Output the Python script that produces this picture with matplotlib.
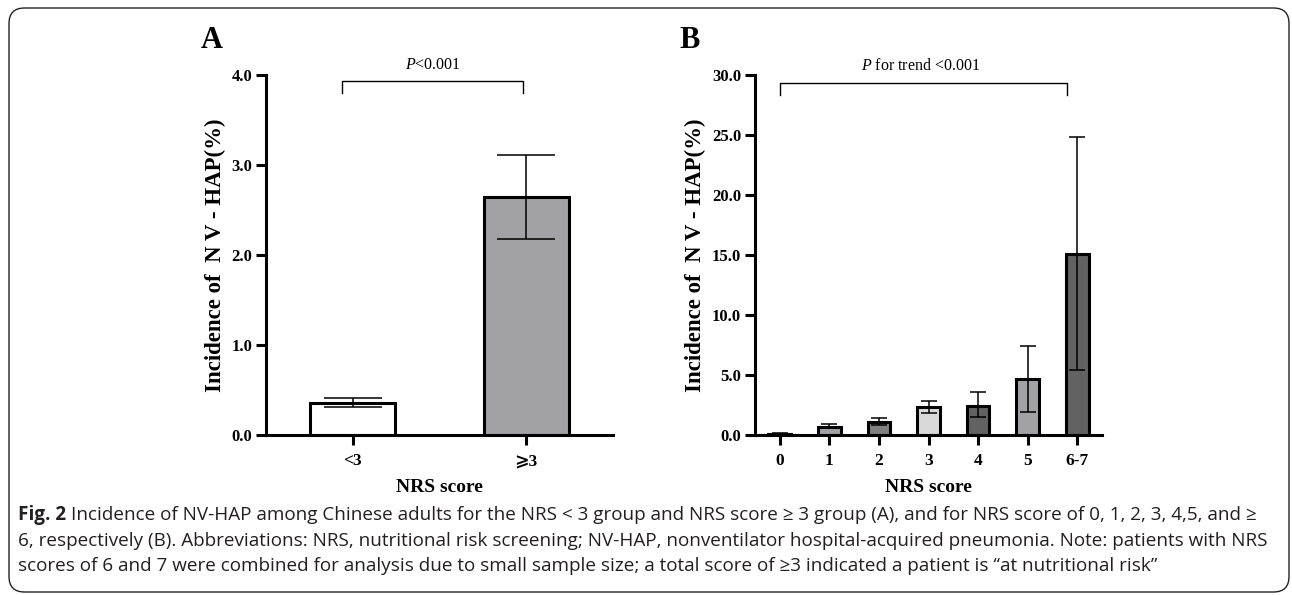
import numpy as np
import matplotlib
matplotlib.use("Agg")
import matplotlib.pyplot as plt
from matplotlib.patches import FancyBboxPatch

plt.rcParams['font.family'] = ['Liberation Serif', 'DejaVu Serif', 'DejaVu Sans']
plt.rcParams['mathtext.fontset'] = 'custom'
plt.rcParams['mathtext.rm'] = 'Liberation Serif'
plt.rcParams['mathtext.it'] = 'Liberation Serif:italic'
plt.rcParams['mathtext.bf'] = 'Liberation Serif:bold'

# Panel A data
a_labels = ["<3", "\u2a7e3"]
a_values = [0.36, 2.64]
a_low = [0.31, 2.18]
a_high = [0.41, 3.11]
a_colors = ["#ffffff", "#a2a1a6"]

# Panel B data
b_labels = ["0", "1", "2", "3", "4", "5", "6-7"]
b_values = [0.08, 0.70, 1.05, 2.30, 2.45, 4.65, 15.05]
b_low = [0.03, 0.58, 0.80, 1.80, 1.47, 1.94, 5.45]
b_high = [0.15, 0.90, 1.39, 2.86, 3.62, 7.44, 24.80]
b_colors = ["#ffffff", "#a2a1a6", "#808080", "#d9d9d9", "#626262", "#a2a1a6", "#626262"]

W, H = 1292, 595
fig = plt.figure(figsize=(W / 100, H / 100), dpi=100)

def px(x, y):
    return x / W, 1 - y / H

lw_axis = 2.2


def style_axes(ax, yticks, ymax):
    for s in ['top', 'right']:
        ax.spines[s].set_visible(False)
    for s in ['left', 'bottom']:
        ax.spines[s].set_linewidth(lw_axis)
    ax.set_ylim(0, ymax)
    ax.set_yticks(yticks)
    ax.set_yticklabels([f"{v:.1f}" for v in yticks], fontsize=12, fontweight='bold')
    ax.tick_params(axis='y', length=7, width=lw_axis, pad=3)
    ax.tick_params(axis='x', length=7, width=lw_axis, pad=6)
    ax.set_ylabel("Incidence of  N V - HAP(%)", fontsize=16.5, fontweight='bold', labelpad=4)
    ax.set_xlabel("NRS score", fontsize=14, fontweight='bold', labelpad=7)


# ---- Panel A ----
axA = fig.add_axes([266 / W, 1 - 435 / H, (613 - 266) / W, 360 / H])
xa = np.arange(len(a_values))
axA.bar(xa, a_values, width=0.49, color=a_colors, edgecolor='black', linewidth=2.2, zorder=2)
err = [np.array(a_values) - np.array(a_low), np.array(a_high) - np.array(a_values)]
axA.errorbar(xa, a_values, yerr=err, fmt='none', ecolor='black', elinewidth=1.1,
             capsize=21, capthick=1.1, zorder=3)
axA.set_xlim(-0.5, 1.5)
axA.set_xticks(xa)
axA.set_xticklabels(a_labels, fontsize=12.5, fontweight='bold')
style_axes(axA, [0, 1, 2, 3, 4], 4.0)
axA.plot([-0.06, -0.06, 0.98, 0.98], [3.80, 3.93, 3.93, 3.80], color='black', lw=1.0,
         clip_on=False)
axA.text(0.46, 4.02, "$P$<0.001", ha='center', va='bottom', fontsize=11.5)

# ---- Panel B ----
axB = fig.add_axes([755 / W, 1 - 435 / H, (1102 - 755) / W, 360 / H])
xb = np.arange(len(b_values))
axB.bar(xb, b_values, width=0.46, color=b_colors, edgecolor='black', linewidth=2.2, zorder=2)
err = [np.array(b_values) - np.array(b_low), np.array(b_high) - np.array(b_values)]
axB.errorbar(xb, b_values, yerr=err, fmt='none', ecolor='black', elinewidth=1.1,
             capsize=6, capthick=1.1, zorder=3)
axB.set_xlim(-0.5, 6.5)
axB.set_xticks(xb)
axB.set_xticklabels(b_labels, fontsize=12.5, fontweight='bold')
style_axes(axB, [0, 5, 10, 15, 20, 25, 30], 30.0)
axB.plot([0, 0, 5.8, 5.8], [28.3, 29.3, 29.3, 28.3], color='black', lw=1.0, clip_on=False)
axB.text(2.85, 30.1, "$P$ for trend <0.001", ha='center', va='bottom', fontsize=11.5)

# panel letters
fig.text(*px(212, 40), "A", fontsize=22, fontweight='bold', ha='center', va='center')
fig.text(*px(690, 40), "B", fontsize=22, fontweight='bold', ha='center', va='center')

# border
border = FancyBboxPatch((9 / W, 1 - 592 / H), (1289 - 9) / W, (592 - 8) / H,
                        boxstyle="round,pad=0,rounding_size=0.012",
                        transform=fig.transFigure, fill=False, edgecolor='#222222',
                        linewidth=1.0, mutation_aspect=W / H)
fig.patches.append(border)

# caption
cap_font = ['Open Sans', 'DejaVu Sans']
cap_color = '#231f20'
cap_size = 13.6
cap_lines = [
    "Incidence of NV-HAP among Chinese adults for the NRS < 3 group and NRS score \u2265 3 group (A), and for NRS score of 0, 1, 2, 3, 4,5, and \u2265",
    "6, respectively (B). Abbreviations: NRS, nutritional risk screening; NV-HAP, nonventilator hospital-acquired pneumonia. Note: patients with NRS",
    "scores of 6 and 7 were combined for analysis due to small sample size; a total score of \u22653 indicated a patient is \u201cat nutritional risk\u201d",
]
cap_y = [515, 541, 566]
fig.canvas.draw()
renderer = fig.canvas.get_renderer()
t0 = fig.text(*px(18, cap_y[0]), "Fig. 2", family=cap_font, fontweight='bold',
              fontsize=cap_size, color=cap_color, va='center', ha='left')
bb = t0.get_window_extent(renderer)
fig.text(bb.x1 / W + 5 / W, 1 - cap_y[0] / H, cap_lines[0], family=cap_font, fontsize=cap_size,
         color=cap_color, va='center', ha='left')
for line, y in zip(cap_lines[1:], cap_y[1:]):
    fig.text(*px(18, y), line, family=cap_font, fontsize=cap_size, color=cap_color,
             va='center', ha='left')

fig.savefig("out.png", dpi=100)
